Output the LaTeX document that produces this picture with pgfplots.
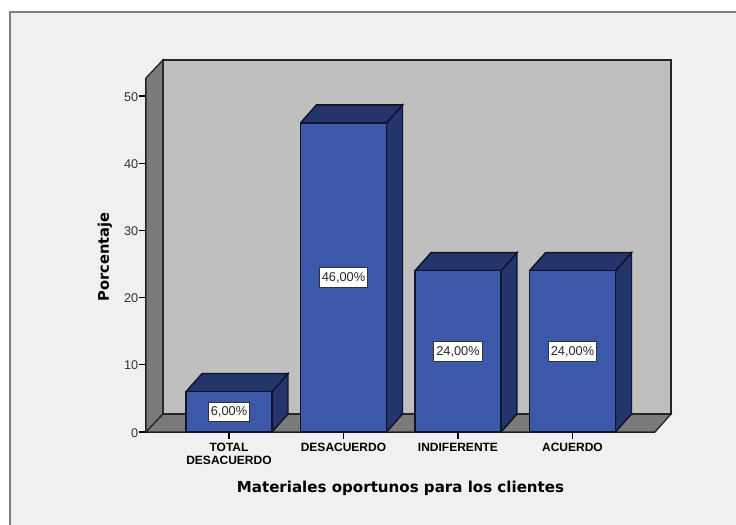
\documentclass[border=0pt]{standalone}
\usepackage{fontspec}
\setmainfont{Liberation Sans}
\newfontfamily\djfont{DejaVu Sans}
\usepackage{pgfplots}
\pgfplotsset{compat=1.18}
\definecolor{bgc}{HTML}{F0F0F0}
\definecolor{wallc}{HTML}{BFBFBF}
\definecolor{darkw}{HTML}{7A7A7A}
\definecolor{frontc}{HTML}{3C58A8}
\definecolor{depthc}{HTML}{24356B}
\definecolor{edgec}{HTML}{10142A}
\begin{document}
\begin{tikzpicture}
\useasboundingbox (-109.5pt,-69.75pt) rectangle (442.5pt,324pt);
\fill[white] (-109.5pt,-69.75pt) rectangle (442.5pt,324pt);
\fill[bgc] (-102pt,-69.75pt) rectangle (442.5pt,315pt);
\draw[gray,line width=1.1pt] (-102pt,-69.75pt) -- (-102pt,315pt) -- (442.5pt,315pt);
\begin{axis}[
  at={(0,0)},anchor=south west,
  scale only axis,width=381.75pt,height=265.5pt,
  xmin=-0.7249,xmax=3.7205,ymin=0,ymax=52.68,
  clip=false,axis lines*=left,
  axis line style={black,line width=1pt,-},
  tick style={black,line width=0.85pt},
  tick align=outside,major tick length=5.25pt,
  xtick={0,1,2,3},
  xticklabels={TOTAL\\DESACUERDO,DESACUERDO,INDIFERENTE,ACUERDO},
  ytick={0,10,20,30,40,50},
  /pgf/number format/assume math mode=true,
  yticklabel style={font=\fontsize{9.5}{10}\selectfont,text=black!80,xshift=3pt,yshift=-0.5pt},
  xticklabel style={font=\fontsize{9}{9.6}\selectfont\bfseries,align=center,yshift=0.5pt},
  xlabel={\djfont\fontsize{11.3}{13}\selectfont\bfseries Materiales oportunos para los clientes},
  ylabel={\djfont\fontsize{11}{13}\selectfont\bfseries Porcentaje},
  xlabel style={at={(axis description cs:0.5,0)},anchor=north,yshift=-33.5pt},
  ylabel style={at={(axis description cs:0,0.5)},anchor=south,rotate=0,yshift=22pt,xshift=-1.5pt},
]
% walls
\addplot[fill=darkw,draw=black!85,line width=1pt] coordinates {(-0.7249,0)(-0.5764,2.68)(-0.5764,55.36)(-0.7249,52.68)(-0.7249,0)};
\addplot[fill=darkw,draw=black!85,line width=1pt] coordinates {(-0.7249,0)(-0.5764,2.68)(3.860,2.68)(3.7205,0)(-0.7249,0)};
\addplot[fill=wallc,draw=black!85,line width=1pt] coordinates {(-0.5764,2.68)(-0.5764,55.36)(3.860,55.36)(3.860,2.68)(-0.5764,2.68)};
% bar 1
\addplot[fill=depthc,draw=edgec,line width=1.1pt] coordinates {(0.3755,0)(0.5152,2.68)(0.5152,8.68)(0.3755,6)(0.3755,0)};
\addplot[fill=depthc,draw=edgec,line width=1.1pt] coordinates {(-0.3755,6)(-0.2358,8.68)(0.5152,8.68)(0.3755,6)(-0.3755,6)};
% bar 2
\addplot[fill=depthc,draw=edgec,line width=1.1pt] coordinates {(1.3755,0)(1.5152,2.68)(1.5152,48.68)(1.3755,46)(1.3755,0)};
\addplot[fill=depthc,draw=edgec,line width=1.1pt] coordinates {(0.6245,46)(0.7642,48.68)(1.5152,48.68)(1.3755,46)(0.6245,46)};
% bar 3
\addplot[fill=depthc,draw=edgec,line width=1.1pt] coordinates {(2.3755,0)(2.5152,2.68)(2.5152,26.68)(2.3755,24)(2.3755,0)};
\addplot[fill=depthc,draw=edgec,line width=1.1pt] coordinates {(1.6245,24)(1.7642,26.68)(2.5152,26.68)(2.3755,24)(1.6245,24)};
% bar 4
\addplot[fill=depthc,draw=edgec,line width=1.1pt] coordinates {(3.3755,0)(3.5152,2.68)(3.5152,26.68)(3.3755,24)(3.3755,0)};
\addplot[fill=depthc,draw=edgec,line width=1.1pt] coordinates {(2.6245,24)(2.7642,26.68)(3.5152,26.68)(3.3755,24)(2.6245,24)};
% front faces
\addplot[ybar,bar width=64.5pt,fill=frontc,draw=edgec,line width=1.1pt] coordinates {(0,6)(1,46)(2,24)(3,24)};
% labels
\addplot[draw=none,mark=none,nodes near coords,point meta=explicit symbolic,
  nodes near coords style={anchor=center,fill=white,draw=black!80,line width=0.8pt,
  inner xsep=1.8pt,inner ysep=3.3pt,font=\fontsize{9.6}{10}\selectfont,text=black!85}]
  coordinates {(0,3)[6,00\%] (1,23)[46,00\%] (2,12)[24,00\%] (3,12)[24,00\%]};
\end{axis}
\end{tikzpicture}
\end{document}
